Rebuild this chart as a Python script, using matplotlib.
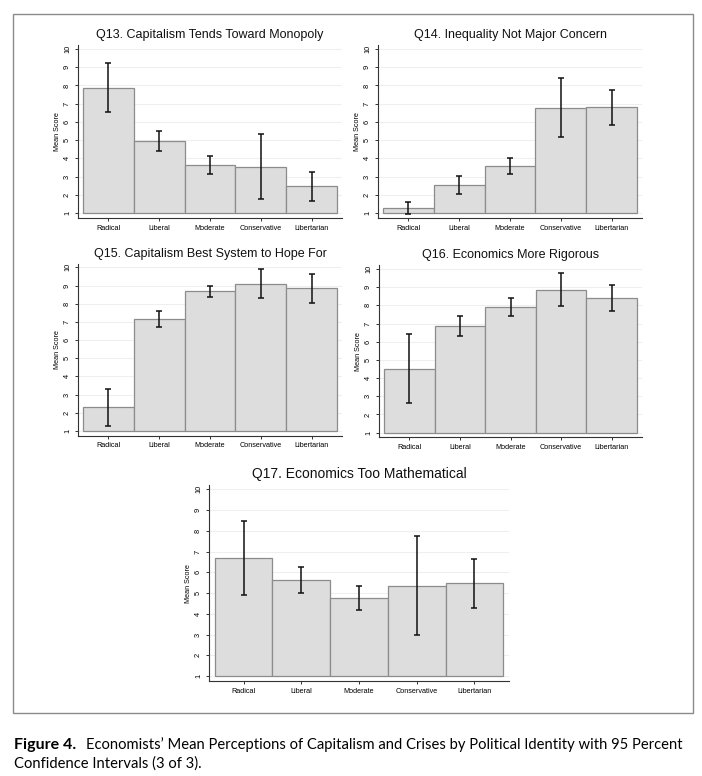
import matplotlib
matplotlib.use("Agg")
import matplotlib.pyplot as plt
from matplotlib.patches import Rectangle
import numpy as np

W, H = 702, 776

categories = ["Radical", "Liberal", "Moderate", "Conservative", "Libertarian"]

titles = ["Q13. Capitalism Tends Toward Monopoly",
          "Q14. Inequality Not Major Concern",
          "Q15. Capitalism Best System to Hope For",
          "Q16. Economics More Rigorous",
          "Q17. Economics Too Mathematical"]

q13_mean = [7.86, 4.93, 3.62, 3.54, 2.46]
q13_lo = [6.52, 4.38, 3.16, 1.79, 1.66]
q13_hi = [9.23, 5.52, 4.11, 5.32, 3.23]

q14_mean = [1.28, 2.56, 3.57, 6.78, 6.80]
q14_lo = [0.94, 2.07, 3.13, 5.19, 5.82]
q14_hi = [1.59, 3.03, 4.03, 8.40, 7.77]

q15_mean = [2.30, 7.16, 8.68, 9.08, 8.85]
q15_lo = [1.29, 6.74, 8.35, 8.30, 8.04]
q15_hi = [3.33, 7.60, 8.97, 9.91, 9.63]

q16_mean = [4.52, 6.88, 7.92, 8.87, 8.41]
q16_lo = [2.64, 6.29, 7.44, 7.99, 7.71]
q16_hi = [6.42, 7.43, 8.38, 9.76, 9.10]

q17_mean = [6.67, 5.61, 4.74, 5.34, 5.47]
q17_lo = [4.91, 4.99, 4.18, 2.96, 4.28]
q17_hi = [8.46, 6.26, 5.32, 7.73, 6.66]

yticks = list(range(1, 11))
bar_base = 1

panels = [
    (q13_mean, q13_lo, q13_hi, (78, 45.4, 342, 217.6), 9.0),
    (q14_mean, q14_lo, q14_hi, (378, 45.4, 642, 217.6), 9.0),
    (q15_mean, q15_lo, q15_hi, (78, 263.7, 342, 435.5), 9.0),
    (q16_mean, q16_lo, q16_hi, (379, 265.4, 642, 437.2), 9.0),
    (q17_mean, q17_lo, q17_hi, (209, 485.2, 509, 681.2), 10.0),
]

fig = plt.figure(figsize=(W / 100, H / 100), dpi=100)
fig.patch.set_facecolor("white")

# outer frame
fig.patches.append(Rectangle((13 / W, 1 - 713 / H), (693 - 13) / W, (713 - 14) / H,
                             transform=fig.transFigure, fill=False,
                             edgecolor="#8a8a8a", linewidth=1.0))

tfont = ["Liberation Sans", "DejaVu Sans"]

for (mean, lo, hi, box, tsize), title in zip(panels, titles):
    l, t, r, b = box
    ax = fig.add_axes([l / W, 1 - b / H, (r - l) / W, (b - t) / H])
    x = np.arange(len(categories))
    mean = np.array(mean)
    heights = mean - bar_base
    ax.bar(x, heights, bottom=bar_base, width=1.0, color="#dddddd",
           edgecolor="#8c8c8c", linewidth=0.9, zorder=2)
    lo = np.array(lo); hi = np.array(hi)
    ax.errorbar(x, mean, yerr=[mean - lo, hi - mean], fmt="none",
                ecolor="#111111", elinewidth=1.1, capsize=2.0, capthick=1.1, zorder=3)
    ax.set_xlim(-0.6, 4.6)
    ax.set_ylim(0.75, 10.2)
    ax.set_yticks(yticks)
    ax.set_yticklabels([str(v) for v in yticks], rotation=90, va="center",
                       fontsize=5.3, family=tfont)
    ax.set_xticks(x)
    ax.set_xticklabels(categories, fontsize=5.2, family=tfont)
    ax.yaxis.grid(True, color="#efefef", linewidth=0.8, zorder=0)
    ax.set_axisbelow(True)
    for s in ["top", "right"]:
        ax.spines[s].set_visible(False)
    for s in ["left", "bottom"]:
        ax.spines[s].set_color("#333333")
        ax.spines[s].set_linewidth(0.8)
    ax.tick_params(axis="both", length=2.5, width=0.7, color="#333333", pad=2.5)
    ax.set_ylabel("Mean Score", fontsize=5.2, family=tfont, labelpad=2)
    ax.set_title(title, fontsize=tsize, family=tfont, pad=5, color="#111111")

cap_font = ["Lato", "DejaVu Sans"]
fig.text(14 / W, 1 - 745 / H, "Figure 4.", fontsize=11.5, fontweight="bold",
         family=cap_font, va="center", ha="left")
fig.text(86 / W, 1 - 745 / H,
         "Economists\u2019 Mean Perceptions of Capitalism and Crises by Political Identity with 95 Percent",
         fontsize=10.6, family=cap_font, va="center", ha="left")
fig.text(14 / W, 1 - 764 / H, "Confidence Intervals (3 of 3).",
         fontsize=10.6, family=cap_font, va="center", ha="left")

fig.savefig("out.png", dpi=100, facecolor="white")
